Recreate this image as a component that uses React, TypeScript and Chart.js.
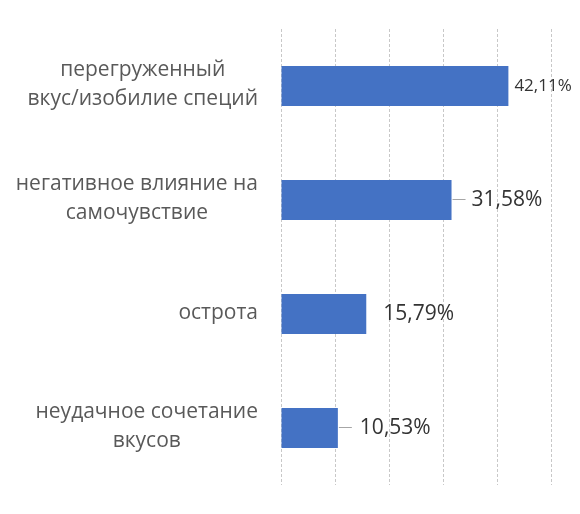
import React, { useEffect, useRef } from "react";
import { Chart, registerables } from "chart.js";

Chart.register(...registerables);

// ---- data ----
const categories: string[][] = [
  ["перегруженный", "вкус/изобилие специй"],
  ["негативное влияние на", "самочувствие"],
  ["острота"],
  ["неудачное сочетание", "вкусов"],
];
const values: number[] = [42.11, 31.58, 15.79, 10.53];
const valueLabels: string[] = ["42,11%", "31,58%", "15,79%", "10,53%"];
const xMin = 0;
const xMax = 50;
const xStep = 10;

// ---- label styles ----
const valueFontSizes = [17, 21, 21, 21];
const valueOffsets = [6, 20, 17, 22];
const leaderLines = [false, true, false, true];

const FONT = '"Open Sans", "Noto Sans", sans-serif';

const labelPlugin = {
  id: "customLabels",
  afterDatasetsDraw(chart: any) {
    const ctx: CanvasRenderingContext2D = chart.ctx;
    const meta = chart.getDatasetMeta(0);
    const yScale = chart.scales.y;
    const area = chart.chartArea;
    ctx.save();
    // category labels: block right-aligned, lines centred in block
    ctx.font = `21px ${FONT}`;
    ctx.fillStyle = "#595959";
    ctx.textAlign = "center";
    ctx.textBaseline = "middle";
    categories.forEach((lines, i) => {
      const yc = yScale.getPixelForValue(i);
      const w = Math.max(...lines.map((l) => ctx.measureText(l).width));
      const cx = area.left - 23 - w / 2;
      lines.forEach((l, j) => {
        ctx.fillText(l, cx, yc + (j - (lines.length - 1) / 2) * 29 - 1);
      });
    });
    // value labels
    meta.data.forEach((bar: any, i: number) => {
      const x = bar.x;
      const y = bar.y;
      if (leaderLines[i]) {
        ctx.strokeStyle = "#A6A6A6";
        ctx.lineWidth = 1;
        ctx.beginPath();
        ctx.moveTo(x + 1, Math.round(y) - 0.5);
        ctx.lineTo(x + 14, Math.round(y) - 0.5);
        ctx.stroke();
      }
      ctx.font = `${valueFontSizes[i]}px ${FONT}`;
      ctx.fillStyle = "#333333";
      ctx.textAlign = "left";
      ctx.textBaseline = "middle";
      ctx.fillText(valueLabels[i], x + valueOffsets[i], y);
    });
    ctx.restore();
  },
};

export default function App() {
  const ref = useRef<HTMLCanvasElement>(null);
  useEffect(() => {
    if (!ref.current) return;
    const chart = new Chart(ref.current, {
      type: "bar",
      data: {
        labels: categories.map((c) => c.join(" ")),
        datasets: [
          {
            data: values,
            backgroundColor: "#4472C4",
            borderWidth: 0,
            barPercentage: 0.35,
            categoryPercentage: 1,
          },
        ],
      },
      options: {
        indexAxis: "y",
        responsive: false,
        animation: false,
        layout: { padding: { left: 0, right: 29, top: 29, bottom: 29 } },
        plugins: {
          legend: { display: false },
          tooltip: { enabled: false },
        },
        scales: {
          x: {
            min: xMin,
            max: xMax,
            ticks: { display: false, stepSize: xStep },
            grid: { color: "#C8C8C8", lineWidth: 1, drawTicks: false },
            border: { display: false, dash: [3, 2] },
            afterFit: (s: any) => {
              s.height = 0;
            },
          },
          y: {
            ticks: { display: false },
            grid: { display: false, drawTicks: false },
            border: { display: false },
            afterFit: (s: any) => {
              s.width = 281;
            },
          },
        },
      },
      plugins: [labelPlugin],
    });
    return () => chart.destroy();
  }, []);
  return (
    <div style={{ position: "fixed", left: 0, top: 0, width: 580, height: 514, background: "#fff" }}>
      <canvas ref={ref} width={580} height={514} />
    </div>
  );
}
